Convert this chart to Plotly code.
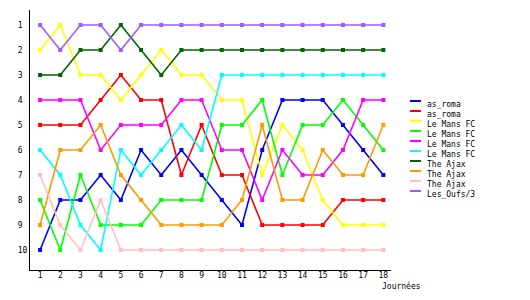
import plotly.graph_objects as go

days = list(range(1, 19))
series_names = ["as_roma", "as_roma", "Le Mans FC", "Le Mans FC", "Le Mans FC",
                "Le Mans FC", "The Ajax", "The Ajax", "The Ajax", "Les_Oufs/3"]
series_colors = ["#0000ff", "#ff0000", "#ffff00", "#00ff00", "#ff00ff",
                 "#00ffff", "#006400", "#ff9900", "#ffc0c0", "#a05aff"]

as_roma_1 = [10, 8, 8, 7, 8, 6, 7, 6, 7, 8, 9, 6, 4, 4, 4, 5, 6, 7]
as_roma_2 = [5, 5, 5, 4, 3, 4, 4, 7, 5, 7, 7, 9, 9, 9, 9, 8, 8, 8]
le_mans_1 = [2, 1, 3, 3, 4, 3, 2, 3, 3, 4, 4, 7, 5, 6, 8, 9, 9, 9]
le_mans_2 = [8, 10, 7, 9, 9, 9, 8, 8, 8, 5, 5, 4, 7, 5, 5, 4, 5, 6]
le_mans_3 = [4, 4, 4, 6, 5, 5, 5, 4, 4, 6, 6, 8, 6, 7, 7, 6, 4, 4]
le_mans_4 = [6, 7, 9, 10, 6, 7, 6, 5, 6, 3, 3, 3, 3, 3, 3, 3, 3, 3]
ajax_1 = [3, 3, 2, 2, 1, 2, 3, 2, 2, 2, 2, 2, 2, 2, 2, 2, 2, 2]
ajax_2 = [9, 6, 6, 5, 7, 8, 9, 9, 9, 9, 8, 5, 8, 8, 6, 7, 7, 5]
ajax_3 = [7, 9, 10, 8, 10, 10, 10, 10, 10, 10, 10, 10, 10, 10, 10, 10, 10, 10]
oufs = [1, 2, 1, 1, 2, 1, 1, 1, 1, 1, 1, 1, 1, 1, 1, 1, 1, 1]

all_series = [as_roma_1, as_roma_2, le_mans_1, le_mans_2, le_mans_3,
              le_mans_4, ajax_1, ajax_2, ajax_3, oufs]

y_ticks = list(range(1, 11))
y_ticktext = [str(v) + ("\u00a0" if v < 10 else "") for v in y_ticks]
x_title = "Journées"

FONT = "DejaVu Sans Mono"

fig = go.Figure()
for name, color, vals in zip(series_names, series_colors, all_series):
    fig.add_trace(go.Scatter(
        x=days, y=vals, name=name, mode="lines+markers",
        line=dict(color=color, width=1.6),
        marker=dict(symbol="square", size=4, color=color, line=dict(width=0)),
        showlegend=False,
    ))

# custom compact legend
L_X0, L_X1, L_TX = 410, 421, 425
for i, (name, color) in enumerate(zip(series_names, series_colors)):
    ly = 101 + 10 * i
    fig.add_shape(type="line", xref="paper", yref="paper",
                  x0=(L_X0 - 30) / 361, x1=(L_X1 - 30) / 361,
                  y0=(270 - ly) / 260, y1=(270 - ly) / 260,
                  line=dict(color=color, width=2))
    fig.add_annotation(text=name, xref="paper", yref="paper",
                       x=(L_TX - 30) / 361, y=(270 - (ly + 3.5)) / 260,
                       xanchor="left", yanchor="middle", showarrow=False,
                       font=dict(family=FONT, size=8, color="black"))

fig.add_annotation(text=x_title, xref="paper", yref="paper",
                   x=(380 - 30) / 361, y=(270 - 286) / 260,
                   xanchor="left", yanchor="middle", showarrow=False,
                   font=dict(family=FONT, size=8, color="black"))

fig.update_layout(
    width=530, height=300,
    margin=dict(l=30, r=139, t=10, b=30),
    paper_bgcolor="white", plot_bgcolor="white",
    font=dict(family=FONT, size=8, color="black"),
    xaxis=dict(range=[0.5, 18.38], tickmode="array", tickvals=days,
               showgrid=False, zeroline=False, showline=True,
               linecolor="black", linewidth=1, ticks="", ticklabelstandoff=-3,
               fixedrange=True),
    yaxis=dict(range=[10.8, 0.4], tickmode="array", tickvals=y_ticks,
               ticktext=y_ticktext, showgrid=False, zeroline=False,
               showline=True, linecolor="black", linewidth=1, ticks="",
               fixedrange=True),
)

fig.write_html("out.html")
